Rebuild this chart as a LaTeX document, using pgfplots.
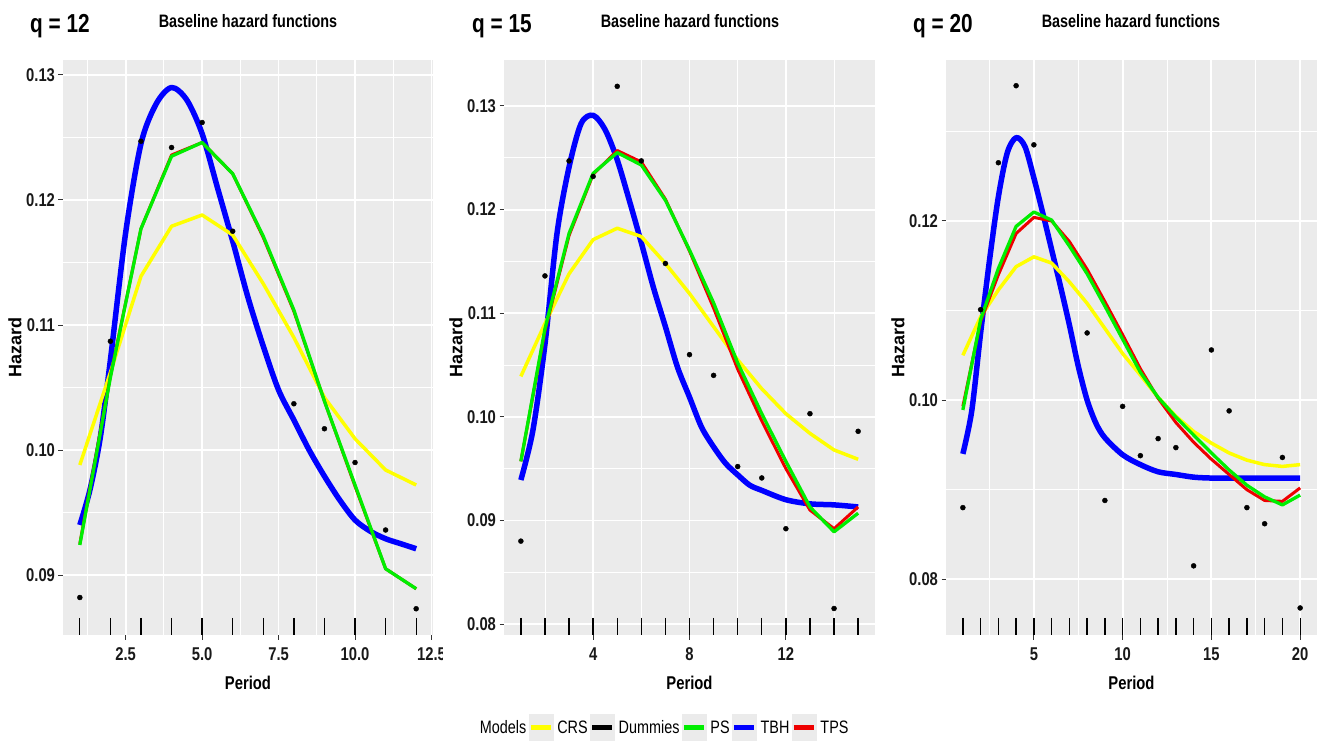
\documentclass[border=0pt]{standalone}
\usepackage{fontspec}
\setmainfont{Liberation Sans}[FakeStretch=0.8]
\newfontfamily\plainsans{Liberation Sans}
\usepackage{pgfplots}
\pgfplotsset{compat=1.18}
\definecolor{bgg}{HTML}{EBEBEB}
\definecolor{gr20}{HTML}{333333}
\definecolor{cyel}{HTML}{FFFF00}
\definecolor{cgrn}{HTML}{00EE00}
\definecolor{cblu}{HTML}{0000FF}
\definecolor{cred}{HTML}{EE0000}
\newcommand\tickfont{\fontsize{18.5}{20}\selectfont\bfseries}
\newcommand\labfont{\fontsize{18.5}{20}\selectfont\bfseries}
\newcommand\ylabfont{\plainsans\fontsize{18}{20}\selectfont\bfseries}
\newcommand\qfont{\fontsize{26}{28}\selectfont\bfseries}
\newcommand\ttlfont{\fontsize{18}{20}\selectfont\bfseries}
\pgfplotsset{
  panel/.style={
    scale only axis, height=575pt,
    axis background/.style={fill=bgg},
    axis line style={draw=none},
    grid=both,
    major grid style={white, line width=1.8pt},
    minor grid style={white, line width=0.9pt},
    tick align=outside,
    major tick length=4.5pt, minor tick length=0pt,
    tick style={gr20, line width=1pt},
    xtick pos=left, ytick pos=left,
    ticklabel style={font=\tickfont, text=black!90},
    xticklabel style={yshift=-5pt},
    every axis x label/.style={at={(axis description cs:0.5,0)}, yshift=-48pt, anchor=center, font=\labfont},
    every axis y label/.style={at={(axis description cs:0,0.5)}, xshift=-48pt, rotate=90, anchor=center, font=\ylabfont},
    xlabel={Period}, ylabel={Hazard},
    clip=true,
  },
  rug/.style={black, only marks, mark=|, mark size=8.6pt, mark options={line width=1.3pt}},
  dum/.style={black, only marks, mark=*, mark size=2.5pt},
  crs/.style={cyel, line width=3.5pt, line join=round, mark=none},
  ps/.style={cgrn, line width=3.3pt, line join=round, mark=none},
  tps/.style={cred, line width=3pt, line join=round, mark=none},
  tbh/.style={cblu, line width=5.5pt, line join=round, mark=none, smooth},
}
\begin{document}
\begin{tikzpicture}
\useasboundingbox (0,0) rectangle (1317pt,740pt);
% ---------------- Panel 1: q = 12
\begin{axis}[panel, at={(63pt,105pt)}, anchor=south west, width=370pt,
  xmin=0.45, xmax=12.55, ymin=0.0852, ymax=0.1312,
  xtick={2.5,5,7.5,10,12.5}, xticklabels={2.5,5.0,7.5,10.0,12.5},
  minor xtick={1.25,3.75,6.25,8.75,11.25},
  ytick={0.09,0.10,0.11,0.12,0.13}, yticklabels={0.09,0.10,0.11,0.12,0.13},
  minor ytick={0.095,0.105,0.115,0.125}]
\addplot[rug] coordinates {(1,0.08589)(2,0.08589)(3,0.08589)(4,0.08589)(5,0.08589)(6,0.08589)(7,0.08589)(8,0.08589)(9,0.08589)(10,0.08589)(11,0.08589)(12,0.08589)};
\addplot[dum] coordinates {(1,0.0882)(2,0.1087)(3,0.1247)(4,0.1242)(5,0.1262)(6,0.1175)(8,0.1037)(9,0.1017)(10,0.0990)(11,0.0936)(12,0.0873)};
\addplot[tbh] coordinates {(1,0.0940)(1.33,0.0968)(1.67,0.1010)(2,0.1072)(2.5,0.1174)(3,0.1245)(3.5,0.1277)(4,0.1290)(4.5,0.1280)(5,0.1253)(5.5,0.1210)(6,0.1167)(6.5,0.1122)(7,0.1083)(7.5,0.1048)(8,0.1024)(8.5,0.1000)(9,0.0979)(9.5,0.0960)(10,0.0944)(10.5,0.0935)(11,0.0929)(11.5,0.0925)(12,0.0921)};
\addplot[crs] coordinates {(1,0.0988)(2,0.1062)(3,0.1139)(4,0.1179)(5,0.1188)(6,0.1172)(7,0.1133)(8,0.1090)(9,0.1042)(10,0.1009)(11,0.0984)(12,0.0972)};
\addplot[tps] coordinates {(1,0.0925)(2,0.1059)(3,0.1177)(4,0.1236)(5,0.1246)(6,0.1221)(7,0.1170)(8,0.1111)(9,0.1039)(10,0.0971)(11,0.0905)(12,0.0889)};
\addplot[ps] coordinates {(1,0.0924)(2,0.1058)(3,0.1177)(4,0.1235)(5,0.1246)(6,0.1221)(7,0.1171)(8,0.1112)(9,0.1039)(10,0.0972)(11,0.0905)(12,0.0889)};
\end{axis}
\fill[white] (443pt,64pt) rectangle (456pt,100pt);
% ---------------- Panel 2: q = 15
\begin{axis}[panel, at={(504pt,105pt)}, anchor=south west, width=371pt,
  xmin=0.3, xmax=15.7, ymin=0.07894, ymax=0.13444,
  xtick={4,8,12}, xticklabels={4,8,12},
  minor xtick={2,6,10,14},
  ytick={0.08,0.09,0.10,0.11,0.12,0.13}, yticklabels={0.08,0.09,0.10,0.11,0.12,0.13},
  minor ytick={0.085,0.095,0.105,0.115,0.125},
  legend style={at={(0.427,-0.1617)}, anchor=center, draw=none, fill=none,
    legend columns=-1, font=\fontsize{18}{20}\selectfont,
    nodes={inner sep=0.5pt},
    /tikz/every even column/.append style={column sep=1.5pt},
    /tikz/every odd column/.append style={column sep=3.5pt}},
  legend image code/.code={\fill[bgg] (0pt,-14pt) rectangle (24pt,14pt); \draw[#1, line width=5pt] (2pt,0pt) -- (22pt,0pt);}]
\addlegendimage{empty legend}\addlegendentry{Models}
\addlegendimage{cyel}\addlegendentry{CRS}
\addlegendimage{black}\addlegendentry{Dummies}
\addlegendimage{cgrn}\addlegendentry{PS}
\addlegendimage{cblu}\addlegendentry{TBH}
\addlegendimage{cred}\addlegendentry{TPS}
\addplot[rug] coordinates {(1,0.07977)(2,0.07977)(3,0.07977)(4,0.07977)(5,0.07977)(6,0.07977)(7,0.07977)(8,0.07977)(9,0.07977)(10,0.07977)(11,0.07977)(12,0.07977)(13,0.07977)(14,0.07977)(15,0.07977)};
\addplot[dum] coordinates {(1,0.0880)(2,0.1136)(3,0.1247)(4,0.1232)(5,0.1319)(6,0.1247)(7,0.1148)(8,0.1060)(9,0.1040)(10,0.0952)(11,0.0941)(12,0.0892)(13,0.1003)(14,0.0815)(15,0.0986)};
\addplot[tbh] coordinates {(1,0.0939)(1.5,0.0987)(2,0.1070)(2.5,0.1177)(3,0.1241)(3.5,0.1283)(4,0.1291)(4.5,0.1277)(5,0.1248)(5.5,0.1209)(6,0.1168)(6.5,0.1125)(7,0.1087)(7.5,0.1048)(8,0.1019)(8.5,0.0990)(9,0.0971)(9.5,0.0955)(10,0.0944)(10.5,0.0934)(11,0.0929)(12,0.0920)(13,0.0916)(14,0.0915)(15,0.0913)};
\addplot[crs] coordinates {(1,0.1039)(2,0.1090)(3,0.1138)(4,0.1171)(5,0.1182)(6,0.1174)(7,0.1148)(8,0.1119)(9,0.1087)(10,0.1055)(11,0.1027)(12,0.1003)(13,0.0984)(14,0.0968)(15,0.0959)};
\addplot[tps] coordinates {(1,0.0957)(2,0.1083)(3,0.1175)(4,0.1234)(5,0.1257)(6,0.1246)(7,0.1210)(8,0.1160)(9,0.1105)(10,0.1046)(11,0.0996)(12,0.0950)(13,0.0910)(14,0.0892)(15,0.0913)};
\addplot[ps] coordinates {(1,0.0957)(2,0.1085)(3,0.1177)(4,0.1235)(5,0.1255)(6,0.1243)(7,0.1209)(8,0.1161)(9,0.1110)(10,0.1052)(11,0.1003)(12,0.0957)(13,0.0913)(14,0.0889)(15,0.0907)};
\end{axis}
% ---------------- Panel 3: q = 20
\begin{axis}[panel, at={(946pt,105pt)}, anchor=south west, width=371pt,
  xmin=0.05, xmax=20.95, ymin=0.07378, ymax=0.13797,
  xtick={5,10,15,20}, xticklabels={5,10,15,20},
  minor xtick={2.5,7.5,12.5,17.5},
  ytick={0.08,0.10,0.12}, yticklabels={0.08,0.10,0.12},
  minor ytick={0.09,0.11,0.13}]
\addplot[rug] coordinates {(1,0.07474)(2,0.07474)(3,0.07474)(4,0.07474)(5,0.07474)(6,0.07474)(7,0.07474)(8,0.07474)(9,0.07474)(10,0.07474)(11,0.07474)(12,0.07474)(13,0.07474)(14,0.07474)(15,0.07474)(16,0.07474)(17,0.07474)(18,0.07474)(19,0.07474)(20,0.07474)};
\addplot[dum] coordinates {(1,0.0880)(2,0.1101)(3,0.1265)(4,0.1351)(5,0.1285)(8,0.1075)(9,0.0888)(10,0.0993)(11,0.0938)(12,0.0957)(13,0.0947)(14,0.0815)(15,0.1056)(16,0.0988)(17,0.0880)(18,0.0862)(19,0.0936)(20,0.0768)};
\addplot[tbh] coordinates {(1,0.0940)(1.5,0.0988)(2,0.1075)(2.5,0.1156)(3,0.1227)(3.5,0.1276)(4,0.1293)(4.5,0.1283)(5,0.1248)(5.5,0.1209)(6,0.1168)(6.5,0.1127)(7,0.1084)(7.5,0.1038)(8,0.1000)(8.5,0.0974)(9,0.0958)(10,0.0939)(11,0.0928)(12,0.0920)(13,0.0917)(14,0.0914)(15,0.0913)(16,0.0913)(17,0.0913)(18,0.0913)(19,0.0913)(20,0.0913)};
\addplot[crs] coordinates {(1,0.1050)(2,0.1093)(3,0.1123)(4,0.1149)(5,0.1160)(6,0.1153)(7,0.1132)(8,0.1108)(9,0.1080)(10,0.1052)(11,0.1028)(12,0.1003)(13,0.0982)(14,0.0965)(15,0.0952)(16,0.0941)(17,0.0933)(18,0.0928)(19,0.0926)(20,0.0928)};
\addplot[tps] coordinates {(1,0.0993)(2,0.1088)(3,0.1140)(4,0.1186)(5,0.1204)(6,0.1200)(7,0.1177)(8,0.1146)(9,0.1110)(10,0.1073)(11,0.1035)(12,0.1002)(13,0.0975)(14,0.0953)(15,0.0934)(16,0.0917)(17,0.0900)(18,0.0888)(19,0.0887)(20,0.0902)};
\addplot[ps] coordinates {(1,0.0989)(2,0.1090)(3,0.1147)(4,0.1194)(5,0.1210)(6,0.1201)(7,0.1172)(8,0.1141)(9,0.1105)(10,0.1068)(11,0.1031)(12,0.1003)(13,0.0981)(14,0.0961)(15,0.0941)(16,0.0922)(17,0.0905)(18,0.0892)(19,0.0883)(20,0.0894)};
\end{axis}
% ---------------- titles
\node[anchor=base west, font=\qfont, inner sep=0pt] at (30pt,707pt) {q = 12};
\node[anchor=base, font=\ttlfont, inner sep=0pt] at (248pt,712pt) {Baseline hazard functions};
\node[anchor=base west, font=\qfont, inner sep=0pt] at (472pt,707pt) {q = 15};
\node[anchor=base, font=\ttlfont, inner sep=0pt] at (690pt,712pt) {Baseline hazard functions};
\node[anchor=base west, font=\qfont, inner sep=0pt] at (913pt,707pt) {q = 20};
\node[anchor=base, font=\ttlfont, inner sep=0pt] at (1131pt,712pt) {Baseline hazard functions};
\end{tikzpicture}
\end{document}
